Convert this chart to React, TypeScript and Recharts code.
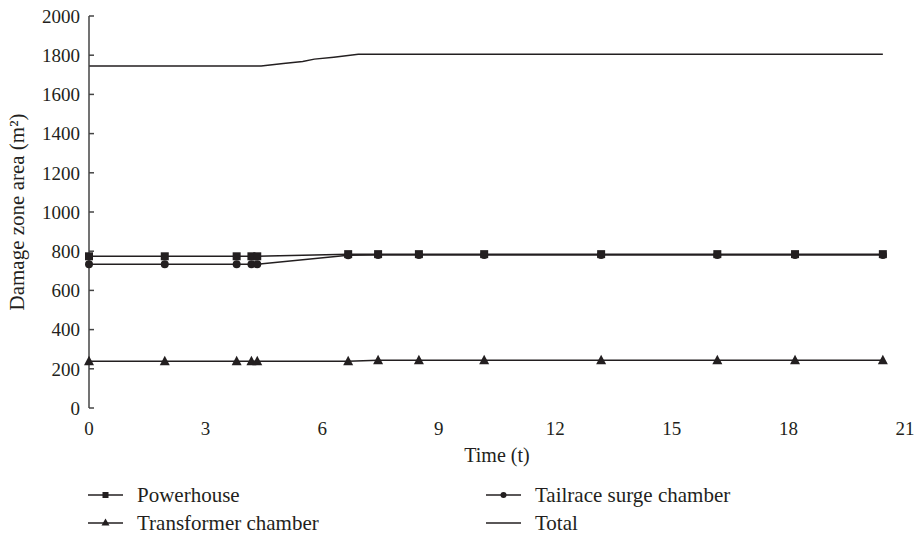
import React from 'react';
import { LineChart, Line, XAxis, YAxis, Legend } from 'recharts';

// time positions where markers were recorded
const markTimes = [0, 1.95, 3.8, 4.18, 4.33, 6.67, 7.44, 8.49, 10.17, 13.18, 16.17, 18.17, 20.43];
const powerhouse = [774, 774, 774, 774, 774, 785, 785, 785, 785, 785, 785, 785, 785];
const tailrace = [733, 733, 733, 733, 733, 779, 780, 780, 780, 780, 780, 780, 780];
const transformer = [238, 238, 238, 238, 238, 238, 243, 243, 243, 243, 243, 243, 243];

const totalTimes = [0, 4.43, 5.0, 5.5, 5.8, 6.3, 6.93, 20.43];
const totalValues = [1745, 1745, 1758, 1768, 1780, 1790, 1805, 1805];

const xTicks = [0, 3, 6, 9, 12, 15, 18, 21];
const yTicks = [0, 200, 400, 600, 800, 1000, 1200, 1400, 1600, 1800, 2000];

const INK = '#231f20';
const FONT = '"Liberation Serif", "DejaVu Serif", serif';

const toRows = (ts: number[], vs: number[]) => ts.map((t, i) => ({ t, v: vs[i] }));

const powerData = toRows(markTimes, powerhouse);
const tailData = toRows(markTimes, tailrace);
const transData = toRows(markTimes, transformer);
const totalData = toRows(totalTimes, totalValues);

const SquareDot = (p: any) => (
  <rect key={`s${p.index}`} x={p.cx - 4} y={p.cy - 4} width={8} height={8} fill={INK} />
);
const CircleDot = (p: any) => <circle key={`c${p.index}`} cx={p.cx} cy={p.cy} r={4} fill={INK} />;
const TriDot = (p: any) => (
  <polygon
    key={`t${p.index}`}
    points={`${p.cx},${p.cy - 5.5} ${p.cx - 5},${p.cy + 4} ${p.cx + 5},${p.cy + 4}`}
    fill={INK}
  />
);

const legendItems = [
  { name: 'Powerhouse', marker: 'square', left: 88, top: 15 },
  { name: 'Tailrace surge chamber', marker: 'circle', left: 486, top: 15 },
  { name: 'Transformer chamber', marker: 'triangle', left: 88, top: 43 },
  { name: 'Total', marker: 'none', left: 486, top: 43 },
];

const LegendIcon = ({ marker }: { marker: string }) => (
  <svg width={35} height={12} style={{ display: 'block' }}>
    <line x1={0} y1={6} x2={35} y2={6} stroke={INK} strokeWidth={1.5} />
    {marker === 'square' && <rect x={14.5} y={3} width={6} height={6} fill={INK} />}
    {marker === 'circle' && <circle cx={17.5} cy={6} r={3} fill={INK} />}
    {marker === 'triangle' && <polygon points="17.5,1.5 13.5,8.5 21.5,8.5" fill={INK} />}
  </svg>
);

const CustomLegend = () => (
  <div style={{ position: 'relative', width: 918, height: 69, fontFamily: FONT }}>
    {legendItems.map((it) => (
      <div
        key={it.name}
        style={{ position: 'absolute', left: it.left, top: it.top, height: 24, display: 'flex', alignItems: 'center' }}
      >
        <LegendIcon marker={it.marker} />
        <span style={{ marginLeft: 14, fontSize: 21, color: INK, lineHeight: '24px', whiteSpace: 'nowrap' }}>
          {it.name}
        </span>
      </div>
    ))}
  </div>
);

export default function App() {
  return (
    <div style={{ position: 'absolute', left: 0, top: 0, background: '#fff', fontFamily: FONT }}>
      <LineChart width={918} height={537} margin={{ top: 16, right: 13, bottom: 0, left: 0 }}>
        <XAxis
          type="number"
          dataKey="t"
          domain={[0, 21]}
          ticks={xTicks}
          axisLine={false}
          tickLine={false}
          height={60}
          tickMargin={8}
          tick={{ fill: INK, fontSize: 19, fontFamily: FONT }}
          allowDuplicatedCategory={false}
          label={{ value: 'Time (t)', position: 'insideBottom', offset: 6, fill: INK, fontSize: 20, fontFamily: FONT }}
        />
        <YAxis
          type="number"
          domain={[0, 2000]}
          ticks={yTicks}
          width={89}
          stroke="#444"
          strokeWidth={1.5}
          tickSize={-5}
          tickMargin={14}
          tick={{ fill: INK, fontSize: 19, fontFamily: FONT }}
          label={{
            value: 'Damage zone area (m²)',
            angle: -90,
            position: 'insideLeft',
            offset: 17,
            style: { textAnchor: 'middle', fill: INK, fontSize: 21, fontFamily: FONT },
          }}
        />
        <Legend
          verticalAlign="bottom"
          content={<CustomLegend />}
          wrapperStyle={{ left: 0, width: 918, height: 69 }}
        />
        <Line data={totalData} dataKey="v" name="Total" stroke={INK} strokeWidth={1.5} dot={false} isAnimationActive={false} />
        <Line data={powerData} dataKey="v" name="Powerhouse" stroke={INK} strokeWidth={1.5} dot={SquareDot} isAnimationActive={false} />
        <Line data={tailData} dataKey="v" name="Tailrace surge chamber" stroke={INK} strokeWidth={1.5} dot={CircleDot} isAnimationActive={false} />
        <Line data={transData} dataKey="v" name="Transformer chamber" stroke={INK} strokeWidth={1.5} dot={TriDot} isAnimationActive={false} />
      </LineChart>
    </div>
  );
}
